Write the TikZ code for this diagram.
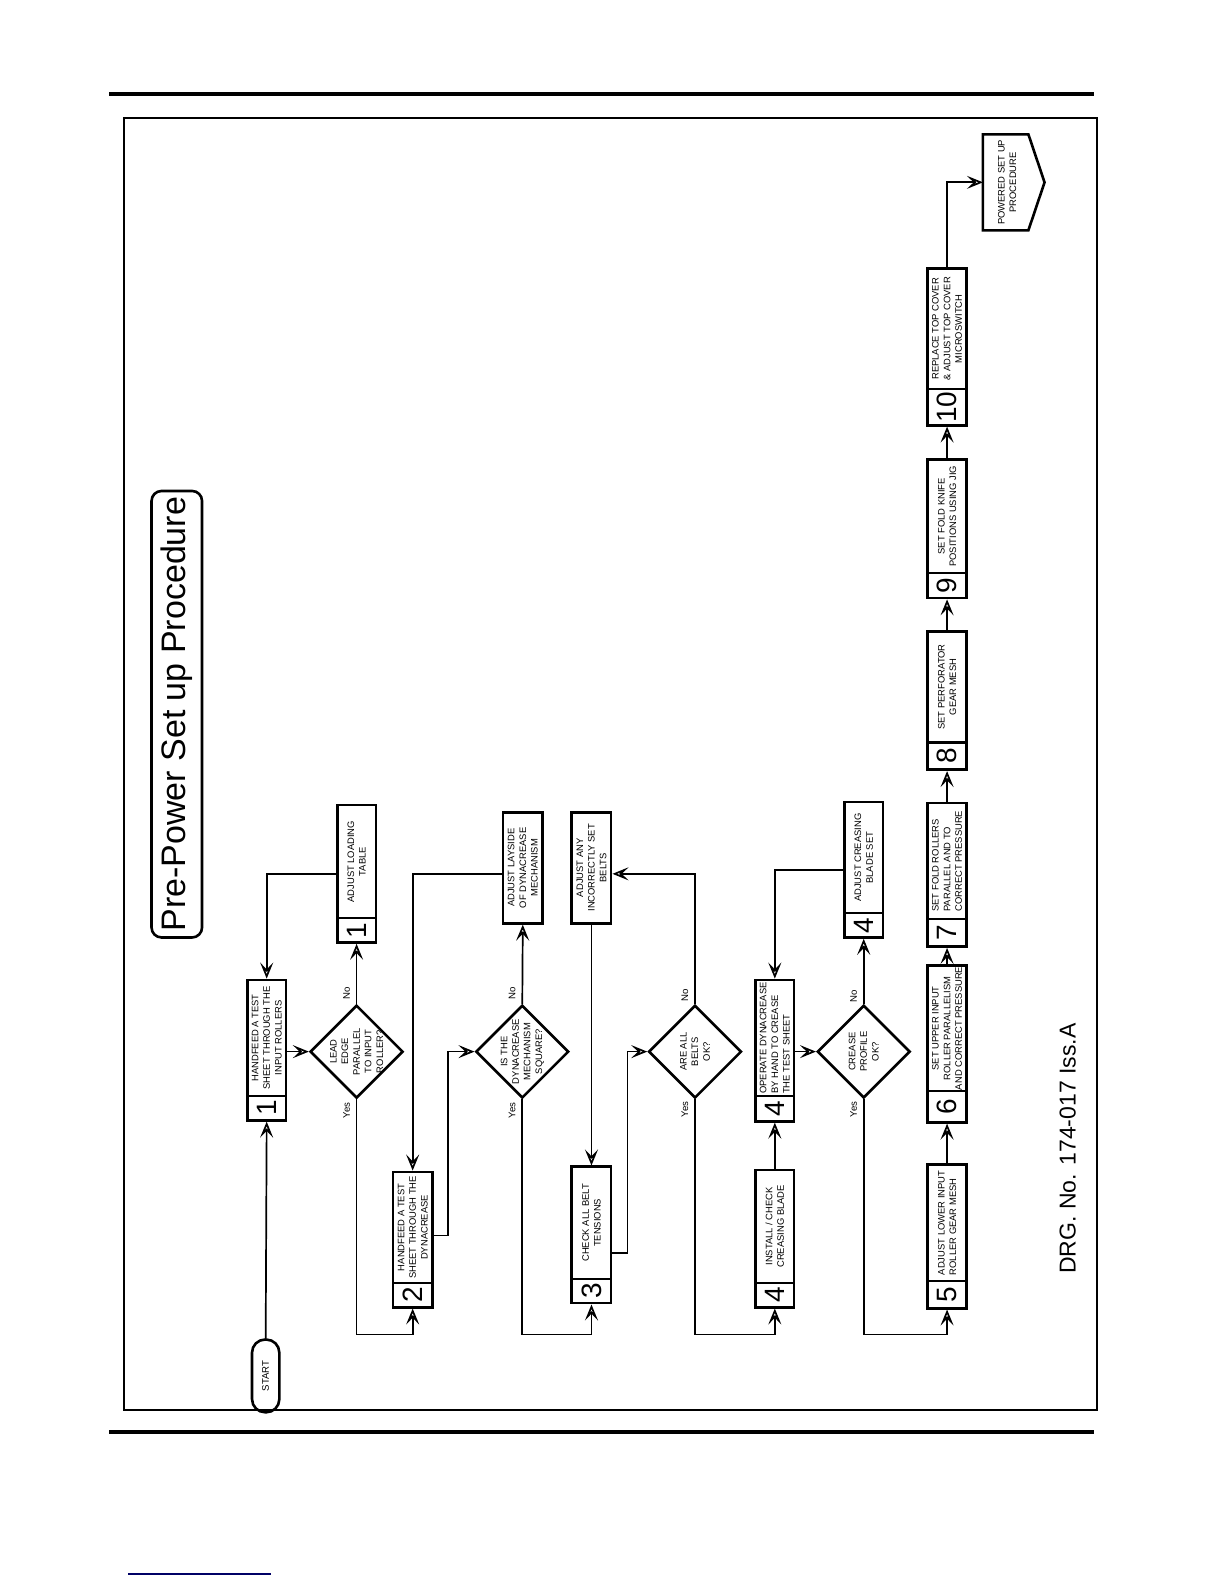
\documentclass[tikz,border=0pt]{standalone}
\usepackage{fontspec}
\setmainfont{Liberation Sans}
\usetikzlibrary{arrows.meta,shapes.geometric,fit,calc}
\newdimen\pxu \pxu=0.50495bp
\newcommand\pbx[9][center]{%
  \node[pbox,fit={(#3,#5)(#4,#7)}] (#2) {};
  \draw[sepline] (#3,#6) -- (#4,#6);
  \node[numf] (#2n) at ($(#3,#6)!0.5!(#4,#7)$) {#8};
  \node[txt,align=#1] (#2t) at ($(#3,#5)!0.5!(#4,#6)$) {#9};
}
\begin{document}
\begin{tikzpicture}[x=0.50495bp,y=-0.50495bp,
  conn/.style={line width=0.85bp},
  arr/.style={conn,-{Stealth[open,length=8bp,width=6.5bp,inset=3.4bp]}},
  pbox/.style={draw,line width=1.3bp,inner sep=0pt,rectangle},
  sepline/.style={line width=1.1bp},
  dia/.style={draw,line width=1.3bp,diamond,aspect=1,minimum size=92\pxu,inner sep=0pt},
  txt/.style={rotate=90,align=center,inner sep=0pt,font=\fontsize{4.7bp}{5.8bp}\selectfont},
  numf/.style={rotate=90,inner sep=0pt,font=\fontsize{14bp}{14bp}\selectfont},
  yn/.style={rotate=90,inner sep=0pt,font=\fontsize{4.8bp}{5.8bp}\selectfont},
]
\useasboundingbox (0,0) rectangle (1212,1568);
% page furniture
\draw[line width=2bp] (108,93) -- (1083,93);
\draw[line width=2bp] (108,1418) -- (1083,1418);
\draw[line width=1bp] (123,117) rectangle (1086,1396);
\draw[line width=0.6bp,blue!40!black] (127,1558) -- (268,1558);
% title
\node[draw,rotate=90,rounded corners=5bp,line width=1.3bp,minimum width=442\pxu,minimum height=50\pxu,inner sep=0pt,font=\fontsize{17bp}{17bp}\selectfont] (title) at (175,707) {Pre-Power Set up Procedure};
\node[rotate=90,inner sep=0pt,font=\fontsize{11.5bp}{11.5bp}\selectfont] (drg) at (1057,1137) {DRG. No. 174-017 Iss.A};
% start
\node[draw,rotate=90,rounded corners=6.5bp,line width=1.3bp,minimum width=72\pxu,minimum height=27\pxu,inner sep=0pt,font=\fontsize{4.8bp}{5.8bp}\selectfont] (start) at (263,1362) {START};
% boxes
\pbx{b1}{245}{283}{970}{1085}{1109}{1}{HANDFEED A TEST\\SHEET THROUGH THE\\INPUT ROLLERS}
\pbx{al}{334}{372}{797}{909}{933}{1}{ADJUST LOADING\\TABLE}
\pbx{b2}{389}{428}{1160}{1270}{1294}{2}{HANDFEED A TEST\\SHEET THROUGH THE\\DYNACREASE}
\node[pbox,fit={(498,804)(537,914)}] (ajl) {};
\node[txt] (ajlt) at (ajl) {ADJUST LAYSIDE\\OF DYNACREASE\\MECHANISM};
\node[pbox,fit={(566,804)(605,914)}] (aib) {};
\node[txt] (aibt) at (aib) {ADJUST ANY\\INCORRECTLY SET\\BELTS};
\pbx{b3}{566}{605}{1155}{1266}{1290}{3}{CHECK ALL BELT\\TENSIONS}
\pbx{b4a}{748}{786}{1158}{1270}{1294}{4}{INSTALL / CHECK\\CREASING BLADE}
\pbx[left]{b4b}{748}{786}{970}{1085}{1110}{4}{OPERATE DYNACREASE\\BY HAND TO CREASE\\THE TEST SHEET}
\pbx{acb}{836}{874}{794}{904}{928}{4}{ADJUST CREASING\\BLADE SET}
\pbx[left]{b5}{918}{957}{1153}{1268}{1295}{5}{ADJUST LOWER INPUT\\ROLLER GEAR MESH}
\pbx{b6}{918}{957}{956}{1080}{1111}{6}{SET UPPER INPUT\\ROLLER PARALLELISM\\AND CORRECT PRESSURE}
\pbx[left]{b7}{918}{957}{795}{910}{937}{7}{SET FOLD ROLLERS\\PARALLEL AND TO\\CORRECT PRESSURE}
\pbx{b8}{918}{957}{625}{735}{762}{8}{SET PERFORATOR\\GEAR MESH}
\pbx{b9}{918}{957}{455}{567}{592}{9}{SET FOLD KNIFE\\POSITIONS USING JIG}
\pbx{b10}{918}{957}{266}{385}{421}{10}{REPLACE TOP COVER\\\& ADJUST TOP COVER\\MICROSWITCH}
% off-page connector
\draw[line width=1.3bp] (973,133) -- (1018,133) -- (1034,180.5) -- (1018,228) -- (973,228) -- cycle;
\coordinate (psp) at (973,180.5);
\node[txt] (pspt) at (997,180.5) {POWERED SET UP\\PROCEDURE};
% diamonds
\node[dia] (d1) at (353,1041) {};
\node[txt] (d1t) at (d1) {LEAD\\EDGE\\PARALLEL\\TO INPUT\\ROLLER?};
\node[dia] (d2) at (517,1041) {};
\node[txt] (d2t) at (d2) {IS THE\\DYNACREASE\\MECHANISM\\SQUARE?};
\node[dia] (d3) at (688,1041) {};
\node[txt] (d3t) at (d3) {ARE ALL\\BELTS\\OK?};
\node[dia] (d4) at (855,1041) {};
\node[txt] (d4t) at (d4) {CREASE\\PROFILE\\OK?};
% yes/no labels
\node[yn] (d1no) at (343,983) {No};
\node[yn] (d1yes) at (343,1099) {Yes};
\node[yn] (d2no) at (507,983) {No};
\node[yn] (d2yes) at (507,1099) {Yes};
\node[yn] (d3no) at (678,985) {No};
\node[yn] (d3yes) at (678,1098) {Yes};
\node[yn] (d4no) at (845,986) {No};
\node[yn] (d4yes) at (845,1098) {Yes};
% helper coordinates
\coordinate (low) at (0,1321);
\coordinate (high) at (0,865);
\coordinate (yb2) at (0,1223);
\coordinate (yb3) at (0,1240);
% connectors
\draw[arr] (start.east) -- (b1.south);
\draw[arr] (b1.east |- d1) -- (d1.west);
\draw[arr] (d1.north) -- (al.south);
\draw[arr] (al.west) -| (b1.north);
\draw[arr] (d1.south) -- (d1.south |- low) -| (b2.south);
\draw[arr] (ajl.west |- high) -| (b2.north);
\draw[arr] (b2.east |- yb2) -- ++(14,0) |- (d2.west);
\draw[arr] (d2.north) -- (ajl.south);
\draw[arr] (d2.south) -- (d2.south |- low) -| (b3.south);
\draw[arr] (b3.east |- yb3) -- ++(15,0) |- (d3.west);
\draw[arr] (d3.north) |- (aib.east |- high);
\draw[arr] (aib.south) -- (b3.north);
\draw[arr] (d3.south) -- (d3.south |- low) -| (b4a.south);
\draw[arr] (b4a.north) -- (b4b.south);
\draw[arr] (b4b.east |- d4) -- (d4.west);
\draw[arr] (d4.north) -- (acb.south);
\draw[arr] (acb.west) -| (b4b.north);
\draw[arr] (d4.south) -- (d4.south |- low) -| (b5.south);
\draw[arr] (b5.north) -- (b6.south);
\draw[arr] (b6.north) -- (b7.south);
\draw[arr] (b7.north) -- (b8.south);
\draw[arr] (b8.north) -- (b9.south);
\draw[arr] (b9.north) -- (b10.south);
\draw[arr] (b10.north) |- (psp);
\end{tikzpicture}
\end{document}
